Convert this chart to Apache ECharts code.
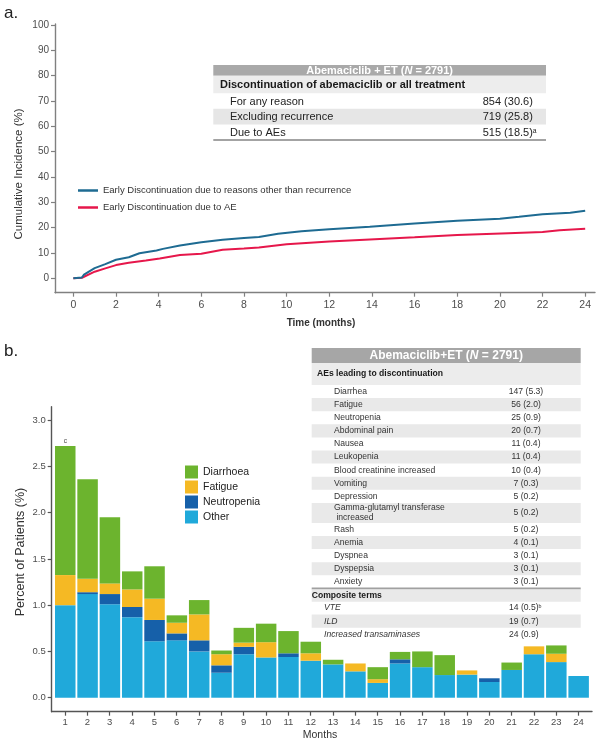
<!DOCTYPE html>
<html><head><meta charset="utf-8">
<script src="https://cdn.jsdelivr.net/npm/echarts@6/dist/echarts.min.js"></script>
<style>html,body{margin:0;padding:0;background:#fff}#c{width:600px;height:756px}</style>
</head><body><div id="c"></div>
<script>
const FONT = '"Liberation Sans", Arial, Helvetica, sans-serif';

// ---------- Panel a: cumulative incidence ----------
const blueMonths = [0, 0.4, 0.5, 1.0, 1.5, 2.0, 2.6, 3.1, 3.9, 4.2, 5.0, 6.0, 7.0, 8.0, 8.7, 9.6, 10.7, 12.0, 13.9, 14.7, 16.0, 18.0, 20.0, 20.9, 22.0, 23.3, 24.0];
const blueValues = [0, 0.3, 1.4, 4.0, 5.6, 7.3, 8.3, 9.9, 11.0, 11.6, 12.9, 14.2, 15.2, 15.9, 16.3, 17.6, 18.6, 19.4, 20.3, 20.85, 21.6, 22.7, 23.5, 24.3, 25.3, 25.9, 26.7];
const redMonths = [0, 0.4, 0.5, 1.0, 1.5, 2.0, 2.6, 3.4, 4.05, 5.0, 6.0, 7.0, 8.0, 8.7, 10.0, 12.0, 13.9, 16.0, 18.0, 20.4, 22.0, 22.8, 24.0];
const redValues = [0, 0.2, 0.6, 2.6, 3.9, 5.2, 6.1, 7.0, 7.8, 9.2, 9.7, 11.3, 11.75, 12.15, 13.45, 14.55, 15.35, 16.2, 17.1, 17.8, 18.3, 19.0, 19.6];
const xTicksA = [0, 2, 4, 6, 8, 10, 12, 14, 16, 18, 20, 22, 24];
const yTicksA = [0, 10, 20, 30, 40, 50, 60, 70, 80, 90, 100];
const seriesNamesA = ['Early Discontinuation due to reasons other than recurrence', 'Early Discontinuation due to AE'];
const tableAHeading = 'Discontinuation of abemaciclib or all treatment';
const tableALabels = ['For any reason', 'Excluding recurrence', 'Due to AEs'];
const tableAValues = ['854 (30.6)', '719 (25.8)', '515 (18.5)'];
const tableASup = ['', '', 'a'];

// ---------- Panel b: AEs leading to discontinuation by month ----------
const months = [1,2,3,4,5,6,7,8,9,10,11,12,13,14,15,16,17,18,19,20,21,22,23,24];
const otherVals       = [1.00,1.12,1.01,0.87,0.61,0.62,0.50,0.27,0.47,0.435,0.44,0.40,0.36,0.285,0.16,0.37,0.33,0.245,0.25,0.17,0.30,0.47,0.385,0.235];
const neutropeniaVals = [0,0.02,0.11,0.11,0.23,0.075,0.12,0.08,0.08,0,0.04,0,0,0,0,0.045,0,0,0,0.04,0,0,0,0];
const fatigueVals     = [0.325,0.145,0.115,0.19,0.23,0.115,0.28,0.12,0.045,0.165,0,0.08,0,0.085,0.04,0,0,0,0.045,0,0,0.085,0.09,0];
const diarrhoeaVals   = [1.395,1.075,0.715,0.195,0.35,0.08,0.155,0.04,0.16,0.20,0.24,0.125,0.05,0,0.13,0.08,0.17,0.215,0,0,0.08,0,0.09,0];
const yTicksB = [0, 0.5, 1.0, 1.5, 2.0, 2.5, 3.0];
const barNotes = ['c'];
const aeLabels = ['Diarrhea','Fatigue','Neutropenia','Abdominal pain','Nausea','Leukopenia','Blood creatinine increased','Vomiting','Depression','Gamma-glutamyl transferase\n increased','Rash','Anemia','Dyspnea','Dyspepsia','Anxiety'];
const aeValues = ['147 (5.3)','56 (2.0)','25 (0.9)','20 (0.7)','11 (0.4)','11 (0.4)','10 (0.4)','7 (0.3)','5 (0.2)','5 (0.2)','5 (0.2)','4 (0.1)','3 (0.1)','3 (0.1)','3 (0.1)'];
const compositeLabels = ['VTE','ILD','Increased transaminases'];
const compositeValues = ['14 (0.5)','19 (0.7)','24 (0.9)'];
const compositeSup = ['b','',''];

const COLORS = { other:'#20a9da', neut:'#1660a9', fat:'#f5b924', dia:'#6cb42e', blue:'#1e6b92', red:'#e6174b' };

// ---------- graphic helpers ----------
const G = [];
function T(x, y, text, s) {
  const style = Object.assign({ text, fill:'#222', fontFamily:FONT, fontSize:11, align:'left', verticalAlign:'middle' }, s || {});
  style.textAlign = style.align; style.textVerticalAlign = style.verticalAlign;
  G.push({ type:'text', x, y, silent:true, z:100, rotation: (s && s.rot) || 0, style });
}
function R(x, y, w, h, fill) {
  G.push({ type:'rect', silent:true, z:99, shape:{x, y, width:w, height:h}, style:{fill} });
}
function supRich(fs, fill) {
  return { v:{ fontSize:fs, fontFamily:FONT, fill }, s:{ fontSize:fs*0.62, fontFamily:FONT, fill, verticalAlign:'top' } };
}

// panel letters
T(4, 13, 'a.', { fontSize:17, fill:'#222' });
T(4, 351, 'b.', { fontSize:17, fill:'#222' });

// axis titles
T(19, 174, 'Cumulative Incidence (%)', { fontSize:11.5, align:'center', fill:'#333', rot:Math.PI/2 });
T(321, 323, 'Time (months)', { fontSize:10, fontWeight:'bold', align:'center', fill:'#333' });
T(21, 552, 'Percent of Patients (%)', { fontSize:12.5, align:'center', fill:'#333', rot:Math.PI/2 });
T(320, 735, 'Months', { fontSize:10.5, align:'center', fill:'#333' });

// ---------- Table a ----------
(function(){
  const x0 = 213.3, w = 332.7;
  R(x0, 65, w, 10.8, '#a9a9a9');
  T(x0 + w/2, 70.6, '{b|Abemaciclib + ET (}{i|N}{b| = 2791)}', { align:'center',
    rich:{ b:{fontSize:11, fontWeight:'bold', fontFamily:FONT, fill:'#fff'}, i:{fontSize:11, fontWeight:'bold', fontStyle:'italic', fontFamily:FONT, fill:'#fff'} } });
  R(x0, 75.8, w, 17.4, '#ededed');
  T(220, 85, tableAHeading, { fontSize:11, fontWeight:'bold', fill:'#1a1a1a' });
  let y = 93.2; const h = 15.6;
  tableALabels.forEach((lab, i) => {
    if (i % 2 === 1) R(x0, y, w, h, '#e6e6e6');
    T(230, y + h/2 + 0.5, lab, { fontSize:11, fill:'#222' });
    T(482.7, y + h/2 + 0.5, '{v|' + tableAValues[i] + '}' + (tableASup[i] ? '{s|' + tableASup[i] + '}' : ''), { rich: supRich(11, '#222') });
    y += h;
  });
  R(x0, 139, w, 2, '#a3a3a3');
})();

// ---------- Table b ----------
(function(){
  const x0 = 311.7, w = 269;
  R(x0, 348, w, 15, '#a6a6a6');
  T(x0 + w/2, 355.6, '{b|Abemaciclib+ET (}{i|N}{b| = 2791)}', { align:'center',
    rich:{ b:{fontSize:12, fontWeight:'bold', fontFamily:FONT, fill:'#fff'}, i:{fontSize:12, fontWeight:'bold', fontStyle:'italic', fontFamily:FONT, fill:'#fff'} } });
  R(x0, 363, w, 22, '#ececec');
  T(317, 374, 'AEs leading to discontinuation', { fontSize:8.6, fontWeight:'bold', fill:'#1a1a1a' });
  let y = 385;
  aeLabels.forEach((lab, i) => {
    const h = lab.indexOf('\n') >= 0 ? 20 : 13.1;
    if (i % 2 === 1) R(x0, y, w, h, '#e9e9e9');
    T(334, y + h/2, lab, { fontSize:8.6, fill:'#333', lineHeight:10 });
    T(526, y + h/2, aeValues[i], { fontSize:8.6, fill:'#333', align:'center' });
    y += h;
  });
  R(x0, y - 0.8, w, 1.8, '#a0a0a0');
  R(x0, y + 1, w, 12.3, '#e9e9e9');
  T(x0, y + 7, 'Composite terms', { fontSize:8.6, fontWeight:'bold', fill:'#1a1a1a' });
  y += 13.1;
  compositeLabels.forEach((lab, i) => {
    const h = 13.1;
    if (i % 2 === 1) R(x0, y, w, h, '#e9e9e9');
    T(324, y + h/2, lab, { fontSize:8.6, fontStyle:'italic', fill:'#333' });
    T(509, y + h/2, '{v|' + compositeValues[i] + '}' + (compositeSup[i] ? '{s|' + compositeSup[i] + '}' : ''), { rich: supRich(8.6, '#333') });
    y += h;
  });
})();

// ---------- chart ----------
const axisA = '#808080', axisB = '#555';
const pair = (xs, ys) => xs.map((x, i) => [x, ys[i]]);
const barSeries = (name, vals, color, extra) => Object.assign({
  name, type:'bar', stack:'ae', xAxisIndex:2, yAxisIndex:2, barWidth:20.5,
  itemStyle:{ color }, data: vals.slice(), emphasis:{disabled:true}
}, extra || {});
const yMinB = -0.151, yMaxB = 3.144;

const option = {
  animation:false,
  textStyle:{ fontFamily:FONT },
  grid:[
    { left:55, right:5, top:24, bottom:463.3, containLabel:false, outerBoundsMode:'none' },
    { left:51.7, right:8, top:406.7, bottom:44.3, containLabel:false, outerBoundsMode:'none' },
    { left:54.1, right:10.2, top:406.7, bottom:44.3, containLabel:false, outerBoundsMode:'none' }
  ],
  xAxis:[
    { gridIndex:0, type:'value', min:-0.86, max:24.46,
      axisLine:{ onZero:false, lineStyle:{ color:axisA, width:1.4 } },
      axisTick:{ customValues:xTicksA, length:4, lineStyle:{ color:axisA, width:1.2 } },
      axisLabel:{ customValues:xTicksA, fontSize:10.5, color:'#4d4d4d', margin:7 },
      splitLine:{ show:false } },
    { gridIndex:1, type:'value', min:0.4, max:24.6,
      axisLine:{ onZero:false, lineStyle:{ color:axisB, width:1.4 } },
      axisTick:{ customValues:months, length:4, lineStyle:{ color:axisB, width:1.2 } },
      axisLabel:{ customValues:months, fontSize:9.5, color:'#4d4d4d', margin:6 },
      splitLine:{ show:false } },
    { gridIndex:2, type:'category', data:months, show:false, boundaryGap:true }
  ],
  yAxis:[
    { gridIndex:0, type:'value', min:-5.7, max:100.4,
      axisLine:{ show:true, onZero:false, lineStyle:{ color:axisA, width:1.4 } },
      axisTick:{ show:true, customValues:yTicksA, length:4, lineStyle:{ color:axisA, width:1.2 } },
      axisLabel:{ customValues:yTicksA, fontSize:10, color:'#4d4d4d', margin:6 },
      splitLine:{ show:false } },
    { gridIndex:1, type:'value', min:yMinB, max:yMaxB,
      axisLine:{ show:true, onZero:false, lineStyle:{ color:axisB, width:1.4 } },
      axisTick:{ show:true, customValues:yTicksB, length:4, lineStyle:{ color:axisB, width:1.2 } },
      axisLabel:{ customValues:yTicksB, fontSize:9.5, color:'#4d4d4d', margin:6, formatter:v => v.toFixed(1) },
      splitLine:{ show:false } },
    { gridIndex:2, type:'value', min:yMinB, max:yMaxB, show:false, splitLine:{ show:false } }
  ],
  legend:[
    { data:seriesNamesA, orient:'vertical', left:73, top:180.5, itemWidth:20, itemHeight:2.5, itemGap:7, icon:'rect',
      textStyle:{ fontSize:9.5, color:'#333', fontFamily:FONT }, selectedMode:false },
    { data:['Diarrhoea','Fatigue','Neutropenia','Other'], orient:'vertical', left:180, top:460.5,
      itemWidth:13, itemHeight:13, itemGap:2, icon:'rect',
      textStyle:{ fontSize:10.5, color:'#222', fontFamily:FONT }, selectedMode:false }
  ],
  series:[
    { name:seriesNamesA[0], type:'line', xAxisIndex:0, yAxisIndex:0, symbol:'none', color:COLORS.blue,
      lineStyle:{ color:COLORS.blue, width:2 }, data:pair(blueMonths, blueValues), z:3 },
    { name:seriesNamesA[1], type:'line', xAxisIndex:0, yAxisIndex:0, symbol:'none', color:COLORS.red,
      lineStyle:{ color:COLORS.red, width:2 }, data:pair(redMonths, redValues), z:2 },
    barSeries('Other', otherVals, COLORS.other),
    barSeries('Neutropenia', neutropeniaVals, COLORS.neut),
    barSeries('Fatigue', fatigueVals, COLORS.fat),
    barSeries('Diarrhoea', diarrhoeaVals, COLORS.dia, {
      label:{ show:true, position:'top', distance:1, fontSize:6.5, color:'#444',
        formatter: p => barNotes[p.dataIndex] || '' } })
  ],
  graphic:{ elements:G }
};

const chart = echarts.init(document.getElementById('c'), null, { renderer:'canvas' });
chart.setOption(option);
</script></body></html>
